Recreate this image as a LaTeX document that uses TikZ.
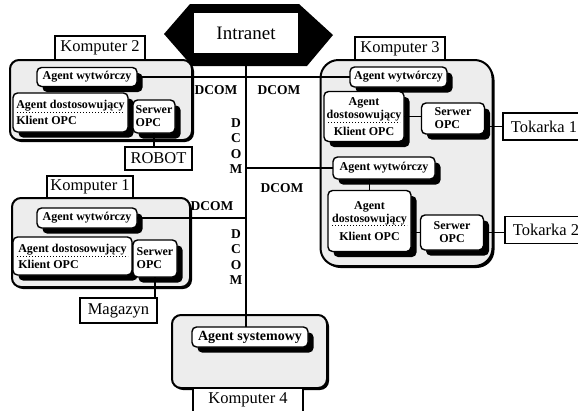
\documentclass[tikz,border=0pt]{standalone}
\usepackage{fontspec}
\setmainfont{Liberation Serif}
\usetikzlibrary{shadows,calc}
\begin{document}
\begin{tikzpicture}[x=1pt,y=-1pt,
  every node/.style={inner sep=0pt, outer sep=0pt},
  outerbox/.style={draw, line width=2pt, fill=gray!14, rounded corners=9pt,
    drop shadow={shadow xshift=2pt, shadow yshift=-2pt, fill=black, opacity=1}},
  lblbox/.style={draw, line width=1.1pt, fill=white, font=\fontsize{16.5}{18}\selectfont},
  inbox/.style={draw, line width=1.4pt, fill=white, rounded corners=4.5pt,
    font=\fontsize{12}{13}\selectfont\bfseries,
    drop shadow={shadow xshift=5.5pt, shadow yshift=-5.5pt, fill=black, opacity=1}},
  dcom/.style={font=\fontsize{13.5}{15.5}\selectfont\bfseries, align=center},
  conn/.style={line width=1.1pt},
  sep/.style={dotted, line width=1pt}
]
\useasboundingbox (0,0) rectangle (578,410);
\fill[white] (0,0) rectangle (578,410);

% Intranet
\fill[black] (164,34) -- (190,4) -- (299,4) -- (333,35) -- (307,66) -- (192,66) -- cycle;
\node[draw, line width=0.8pt, fill=white, minimum width=105pt, minimum height=41pt,
  font=\fontsize{19}{21}\selectfont] (intranet) at (246,33) {Intranet};

% outer boxes
\node[outerbox, minimum width=182pt, minimum height=80pt] (k2) at (101,100) {};
\node[outerbox, minimum width=178pt, minimum height=89pt] (k1) at (101,242.5) {};
\node[outerbox, minimum width=155pt, minimum height=73pt] (k4) at (249.5,351.5) {};
\node[outerbox, minimum width=172pt, minimum height=206pt, rounded corners=18pt] (k3) at (406.5,163) {};

% labels
\node[lblbox, minimum width=90pt, minimum height=24pt] (k2l) at (100,48) {Komputer 2};
\node[lblbox, minimum width=86pt, minimum height=22pt] (k1l) at (90,187) {Komputer 1};
\node[lblbox, minimum width=110pt, minimum height=24pt] (k4l) at (248,400) {Komputer 4};
\node[lblbox, minimum width=90pt, minimum height=23pt] (k3l) at (400,48.5) {Komputer 3};
\node[lblbox, minimum width=67pt, minimum height=23pt] (robot) at (158.5,158.5) {ROBOT};
\node[lblbox, minimum width=77pt, minimum height=25pt] (mag) at (118.5,310.5) {Magazyn};
\node[lblbox, minimum width=82pt, minimum height=27pt, anchor=west] (tok1) at (503,126.5) {Tokarka 1};
\node[lblbox, minimum width=82pt, minimum height=27pt, anchor=west] (tok2) at (505,230) {Tokarka 2};

% Komputer 2
\node[inbox, minimum width=100pt, minimum height=19pt] (aw2) at (87,77) {Agent wytwórczy};
\node[inbox, minimum width=115pt, minimum height=39pt, align=left] (ad2) at (70.5,112.5) {Agent dostosowujący\\[3pt]Klient OPC};
\node[inbox, minimum width=42pt, minimum height=33pt, align=left] (so2) at (154,116.5) {Serwer\\OPC};

% Komputer 1
\node[inbox, minimum width=100pt, minimum height=20pt] (aw1) at (87,218) {Agent wytwórczy};
\node[inbox, minimum width=119pt, minimum height=38pt, align=left] (ad1) at (72.5,256) {Agent dostosowujący\\[3pt]Klient OPC};
\node[inbox, minimum width=44pt, minimum height=37pt, align=left] (so1) at (155,258.5) {Serwer\\OPC};

% Komputer 4
\node[inbox, minimum width=116pt, minimum height=20pt, font=\fontsize{14}{16}\selectfont\bfseries] (ag4) at (250,337) {Agent systemowy};

% Komputer 3
\node[inbox, minimum width=97pt, minimum height=20pt] (aw3a) at (398.5,77) {Agent wytwórczy};
\node[inbox, minimum width=80pt, minimum height=50pt, align=center] (ad3a) at (364,116.5) {Agent\\dostosowujący\\[4pt]Klient OPC};
\node[inbox, minimum width=63pt, minimum height=31pt, align=left] (so3a) at (453,118.5) {Serwer\\OPC};
\node[inbox, minimum width=102pt, minimum height=22pt] (aw3b) at (384,168) {Agent wytwórczy};
\node[inbox, minimum width=83pt, minimum height=61pt, align=center] (ad3b) at (369.5,221) {Agent\\dostosowujący\\[5pt]Klient OPC};
\node[inbox, minimum width=63pt, minimum height=35pt, align=center] (so3b) at (452,232.5) {Serwer\\OPC};

% dotted separators
\draw[sep] ([xshift=4pt]ad2.west) -- ([xshift=-4pt]ad2.east);
\draw[sep] ([xshift=4pt]ad1.west) -- ([xshift=-4pt]ad1.east);
\draw[sep] ($(ad3a.north west)!0.62!(ad3a.south west)+(4,0)$) -- ($(ad3a.north east)!0.62!(ad3a.south east)+(-4,0)$);
\draw[sep] ($(ad3b.north west)!0.57!(ad3b.south west)+(4,0)$) -- ($(ad3b.north east)!0.57!(ad3b.south east)+(-4,0)$);

% DCOM labels
\node[dcom] (dc1) at (216,90) {DCOM};
\node[dcom] (dc2) at (279,90) {DCOM};
\node[dcom] (dc3) at (236,146) {D\\C\\O\\M};
\node[dcom] (dc4) at (282,188) {DCOM};
\node[dcom] (dc5) at (212,206) {DCOM};
\node[dcom] (dc6) at (236,257) {D\\C\\O\\M};

% connectors
\draw[conn] (intranet.south) -- (intranet.south |- ag4.north);
\draw[conn] (aw2.east) -- (aw3a.west);
\draw[conn] (aw3b.west) -- (aw3b.west -| intranet.south);
\draw[conn] (aw1.east) -- (aw1.east -| intranet.south);
\draw[conn] (so2.south) -- (so2.south |- robot.north);
\draw[conn] (so1.south) -- (so1.south |- mag.north);
\draw[conn] (ad3a.east) -- (ad3a.east -| so3a.west);
\draw[conn] (tok1.west) -- (tok1.west -| so3a.east);
\draw[conn] (ad3b.north) -- (ad3b.north |- aw3b.south);
\draw[conn] (so3b.west) -- (so3b.west -| ad3b.east);
\draw[conn] (so3b.east) -- (so3b.east -| tok2.west);
\end{tikzpicture}
\end{document}
